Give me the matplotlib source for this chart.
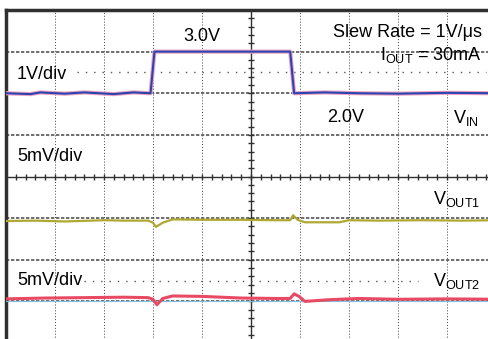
import matplotlib
matplotlib.use('Agg')
import matplotlib.pyplot as plt
import numpy as np

plt.rcParams['font.family'] = ['Liberation Sans', 'DejaVu Sans']
plt.rcParams['mathtext.fontset'] = 'custom'
plt.rcParams['mathtext.rm'] = 'Liberation Sans'
plt.rcParams['mathtext.it'] = 'Liberation Sans'

# time in screen divisions (10 div across), levels in volts / millivolts
vin_t = [0.0, 0.5, 0.7, 1.2, 1.6, 2.2, 2.6, 2.95, 2.99, 3.03, 3.5, 4.5, 5.5, 5.80, 5.84, 5.88, 6.5, 7.2, 8.0, 9.0, 10.0]
vin_v = [2.0, 1.98, 2.02, 1.99, 2.02, 1.98, 2.02, 2.0, 2.5, 3.0, 3.0, 3.0, 3.0, 3.0, 2.5, 2.0, 2.02, 2.0, 1.99, 2.01, 2.0]

vout1_t = [0.0, 0.6, 1.2, 2.0, 2.4, 2.9, 3.0, 3.06, 3.2, 3.4, 4.0, 4.8, 5.5, 5.8, 5.86, 5.95, 6.1, 6.8, 7.0, 7.6, 8.5, 9.3, 10.0]
vout1_mv = [-0.15, -0.1, -0.2, -0.05, -0.1, -0.1, -0.35, -0.85, -0.35, 0.05, 0.0, 0.0, -0.05, -0.05, 0.55, 0.0, -0.3, -0.3, -0.05, -0.1, -0.05, -0.1, -0.05]

vout2_t = [0.0, 0.8, 1.6, 2.4, 2.9, 3.0, 3.08, 3.2, 3.4, 4.0, 4.8, 5.5, 5.8, 5.88, 5.98, 6.1, 6.6, 7.2, 8.0, 9.0, 10.0]
vout2_mv = [0.15, 0.25, 0.3, 0.35, 0.3, 0.1, -0.55, 0.2, 0.5, 0.45, 0.25, 0.2, 0.2, 0.75, 0.45, -0.15, 0.05, 0.2, 0.1, 0.15, 0.1]

vin_per_div = 1.0     # V/div
vout_per_div = 5.0    # mV/div
vin_ref = 4.0         # ground marker position, divisions from bottom
vout1_ref = 2.96
vout2_ref = 1.03

fig = plt.figure(figsize=(4.89, 3.39), dpi=100)
ax = fig.add_axes([6 / 489, -4 / 339, 490 / 489, 333 / 339])
ax.set_xlim(0, 10)
ax.set_ylim(0, 8)
ax.set_xticks([])
ax.set_yticks([])
for s in ax.spines.values():
    s.set_color('#303030')
    s.set_linewidth(2.5)

# graticule
for x in range(1, 10):
    if x == 5:
        continue
    ax.axvline(x, color='#404040', lw=0.7, ls=(0, (1, 2)))
for y in range(1, 8):
    if y == 4:
        continue
    ax.axhline(y, color='#555555', lw=1.2, ls=(0, (2, 1)))
ax.axvline(5, color='#303030', lw=1.0)
ax.axhline(4, color='#303030', lw=1.0)
ticks = np.arange(0, 10.01, 0.2)
ax.plot(ticks, np.full_like(ticks, 4), ls='none', marker='|', ms=5, color='#303030', mew=1)
ticks_y = np.arange(0, 8.01, 0.2)
ax.plot(np.full_like(ticks_y, 5), ticks_y, ls='none', marker='_', ms=5, color='#303030', mew=1)

# sparse dotted marker rows
ax.plot([1.45, 9.8], [6.5, 6.5], color='#555555', lw=1.0, ls=(0, (1, 5)))
ax.plot([1.6, 8.4], [1.5, 1.5], color='#555555', lw=1.0, ls=(0, (1, 5)))

# traces
vin_y = [v / vin_per_div + vin_ref for v in vin_v]
ax.plot(vin_t, vin_y, color='#f0a0c0', lw=3.0, zorder=3)
ax.plot(vin_t, vin_y, color='#2845b0', lw=1.5, zorder=4)

v1_y = [v / vout_per_div + vout1_ref for v in vout1_mv]
ax.plot(vout1_t, v1_y, color='#b0a830', lw=1.6, zorder=4)

v2_y = [v / vout_per_div + vout2_ref for v in vout2_mv]
ax.plot([0, 10], [vout2_ref - 0.03, vout2_ref - 0.03], color='#80c0e0', lw=0.8, zorder=3)
ax.plot(vout2_t, v2_y, color='#e84a64', lw=2.2, zorder=4)

# labels (positions given in reference pixels, baseline aligned)
fs = 13
def px(x, y):
    return ((x - 6) / 49.0, 8 - (y + 1 - 10) / 41.6)

def label(x, y, s):
    ax.text(*px(x, y), s, fontsize=fs, va='baseline', ha='left', zorder=5)

label(183, 40, '3.0V')
label(17, 78, '1V/div')
label(17, 160, '5mV/div')
label(17, 284, '5mV/div')
ax.text(*px(482, 36), 'Slew Rate = 1V/μs', fontsize=fs, va='baseline', ha='right')
ax.text(*px(482, 59), 'I$_{\\mathrm{OUT}}$ = 30mA', fontsize=fs, va='baseline', ha='right')
label(327, 121, '2.0V')
label(453, 122, 'V$_{\\mathrm{IN}}$')
label(433, 203, 'V$_{\\mathrm{OUT1}}$')
label(433, 285, 'V$_{\\mathrm{OUT2}}$')

plt.savefig('out.png', dpi=100)
